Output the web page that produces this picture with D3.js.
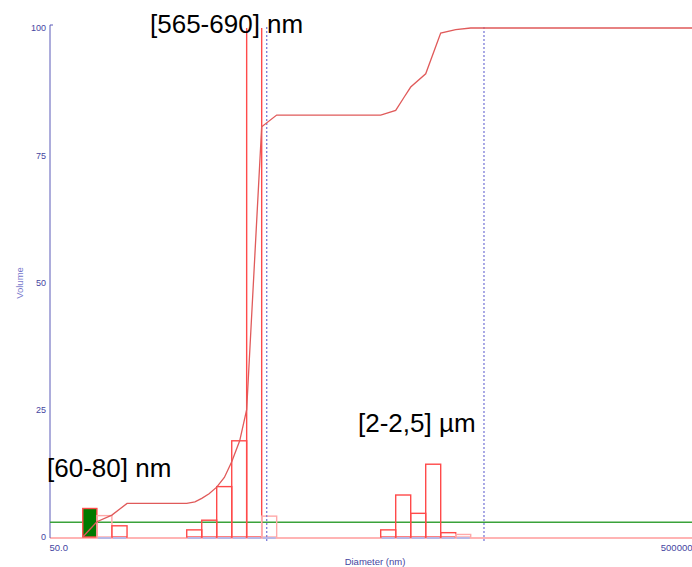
<!DOCTYPE html>
<html>
<head>
<meta charset="utf-8">
<script src="https://cdn.jsdelivr.net/npm/d3@7"></script>
<style>
body{margin:0;background:#fff;}
svg{display:block;font-family:"Liberation Sans",Arial,sans-serif;}
</style>
</head>
<body>
<svg id="chart" width="692" height="567"></svg>
<script>

// histogram bins, diameter in nm
var binLow    = [80, 98, 121.5, 355.5, 441, 546.5, 678, 840, 1042, 5746, 7126, 8838, 10960, 13590, 16855];
var binHigh   = [98, 121.5, 151, 441, 546.5, 678, 840, 1042, 1292, 7126, 8838, 10960, 13590, 16855, 20900];
var binVolume = [5.6, 4.2, 2.2, 1.4, 3.3, 9.9, 18.9, 105, 4.1, 1.4, 8.25, 4.65, 14.3, 0.85, 0.5];

// cumulative curve
var cumDiam   = [80, 98, 121.5, 151, 355.5, 400, 441, 490, 546.5, 610, 678, 760, 840, 1042, 1292, 5746, 7126, 8000, 8838, 10960, 13590, 16855, 20900, 500000];
var cumVolume = [0, 3.0, 4.3, 6.6, 6.6, 6.9, 7.6, 8.5, 9.8, 11.7, 14.8, 18.9, 25.0, 80.6, 82.9, 82.9, 83.8, 86.3, 88.4, 91.0, 99.0, 99.7, 100, 100];

// dotted markers and threshold
var markerDiam = [1120, 25290];
var thresholdLevel = [2.9];

// axes
var xDomain = [50, 500000];
var xTickValues = [50, 500000];
var xTickLabels = ["50.0", "500000"];
var yTickValues = [0, 25, 50, 75, 100];
var yTickLabels = ["0", "25", "50", "75", "100"];

var annotations = ["[565-690] nm", "[60-80] nm", "[2-2,5] µm"];


var chart = {

    settings : {
        left : 50,
        right : 692,
        top : 28,
        bottom : 537,
        selectedBin : 0,
        fadedBins : [1, 8, 14],
        barColor : "#ff4a4a",
        fadedColor : "#ffa8a8",
        curveColor : "#e05a5a",
        axisColor : "#5a5ab8",
        textColor : "#45459f",
    },

    draw : function(){
        var s = chart.settings;
        var svg = d3.select("#chart");

        var x = d3.scaleLog().domain(xDomain).range([s.left, s.right]);
        var y = d3.scaleLinear().domain([0, 100]).range([s.bottom, s.top]);

        svg.append("clipPath").attr("id", "plotClip")
            .append("rect")
            .attr("x", s.left).attr("y", s.top)
            .attr("width", s.right - s.left).attr("height", s.bottom - s.top + 4);

        // pink base line
        svg.append("line")
            .attr("x1", s.left).attr("x2", s.right)
            .attr("y1", y(0) + 1).attr("y2", y(0) + 1)
            .attr("stroke", "#ffb4b4").attr("stroke-width", 2);

        // y axis
        svg.append("line")
            .attr("x1", s.left).attr("x2", s.left)
            .attr("y1", s.top - 3).attr("y2", y(0) + 1)
            .attr("stroke", s.axisColor).attr("stroke-width", 1);
        svg.append("line")
            .attr("x1", s.left).attr("x2", s.left + 3)
            .attr("y1", s.top - 3).attr("y2", s.top - 3)
            .attr("stroke", s.axisColor).attr("stroke-width", 1);

        var yAxis = svg.append("g")
            .attr("transform", "translate(" + s.left + ",0)")
            .call(d3.axisLeft(y).tickValues(yTickValues)
                .tickFormat(function(d, i){ return yTickLabels[i]; })
                .tickSize(0).tickPadding(4));
        yAxis.select(".domain").remove();
        yAxis.selectAll("text")
            .attr("fill", s.textColor)
            .style("font-size", "9px")
            .style("font-family", "'Liberation Sans', Arial, sans-serif");

        var xAxis = svg.append("g")
            .attr("transform", "translate(0," + (y(0) + 3) + ")")
            .call(d3.axisBottom(x).tickValues(xTickValues)
                .tickFormat(function(d, i){ return xTickLabels[i]; })
                .tickSize(0).tickPadding(4));
        xAxis.select(".domain").remove();
        xAxis.selectAll("text")
            .attr("fill", s.textColor)
            .attr("text-anchor", function(d, i){ return i == 0 ? "start" : "end"; })
            .attr("dx", function(d, i){ return i == 0 ? -1 : 0; })
            .style("font-size", "9.5px")
            .style("font-family", "'Liberation Sans', Arial, sans-serif");

        svg.append("text")
            .attr("x", 375).attr("y", 565)
            .attr("text-anchor", "middle")
            .attr("fill", s.textColor)
            .style("font-size", "9.5px")
            .text("Diameter (nm)");

        svg.append("text")
            .attr("transform", "translate(23,283) rotate(-90)")
            .attr("text-anchor", "middle")
            .attr("fill", "#7878cc")
            .style("font-size", "9.5px")
            .text("Volume");

        // green threshold
        svg.selectAll(".threshold").data(thresholdLevel).enter()
            .append("line")
            .attr("x1", s.left).attr("x2", s.right)
            .attr("y1", function(d){ return y(d); })
            .attr("y2", function(d){ return y(d); })
            .attr("stroke", "#3aa23a").attr("stroke-width", 1.5);

        // histogram
        var bars = d3.range(binVolume.length);
        var barG = svg.append("g").attr("clip-path", "url(#plotClip)");

        barG.selectAll(".bar").data(bars).enter()
            .append("rect")
            .attr("x", function(i){ return x(binLow[i]); })
            .attr("y", function(i){ return y(binVolume[i]); })
            .attr("width", function(i){ return x(binHigh[i]) - x(binLow[i]); })
            .attr("height", function(i){ return y(0) - y(binVolume[i]); })
            .attr("fill", function(i){ return i == s.selectedBin ? "#007a00" : "none"; })
            .attr("stroke", function(i){ return s.fadedBins.indexOf(i) >= 0 ? s.fadedColor : s.barColor; })
            .attr("stroke-width", 1.4);

        // bar bottoms over the base line
        barG.selectAll(".barBottom").data(bars.filter(function(i){ return i != s.selectedBin; })).enter()
            .append("line")
            .attr("x1", function(i){ return x(binLow[i]) + 1; })
            .attr("x2", function(i){ return x(binHigh[i]) - 1; })
            .attr("y1", y(0) + 1).attr("y2", y(0) + 1)
            .attr("stroke", "#b8b8e6").attr("stroke-width", 2);

        // dotted markers
        svg.selectAll(".marker").data(markerDiam).enter()
            .append("line")
            .attr("x1", function(d){ return x(d); })
            .attr("x2", function(d){ return x(d); })
            .attr("y1", s.top - 1).attr("y2", y(0) + 4)
            .attr("stroke", "#7c7cd8").attr("stroke-width", 1.3)
            .attr("stroke-dasharray", "2,2");

        // cumulative curve
        var line = d3.line()
            .x(function(i){ return x(cumDiam[i]); })
            .y(function(i){ return y(cumVolume[i]); });

        svg.append("path")
            .attr("d", line(d3.range(cumDiam.length)))
            .attr("fill", "none")
            .attr("stroke", s.curveColor)
            .attr("stroke-width", 1.3);

        // annotations
        var notePos = [[150, 33], [47, 477], [358, 432]];
        svg.selectAll(".note").data(annotations).enter()
            .append("text")
            .attr("x", function(d, i){ return notePos[i][0]; })
            .attr("y", function(d, i){ return notePos[i][1]; })
            .attr("fill", "#000")
            .style("font-size", "26px")
            .style("font-family", "Arial, 'Liberation Sans', sans-serif")
            .text(function(d){ return d; });
    }
}

chart.draw();
</script>
</body>
</html>
